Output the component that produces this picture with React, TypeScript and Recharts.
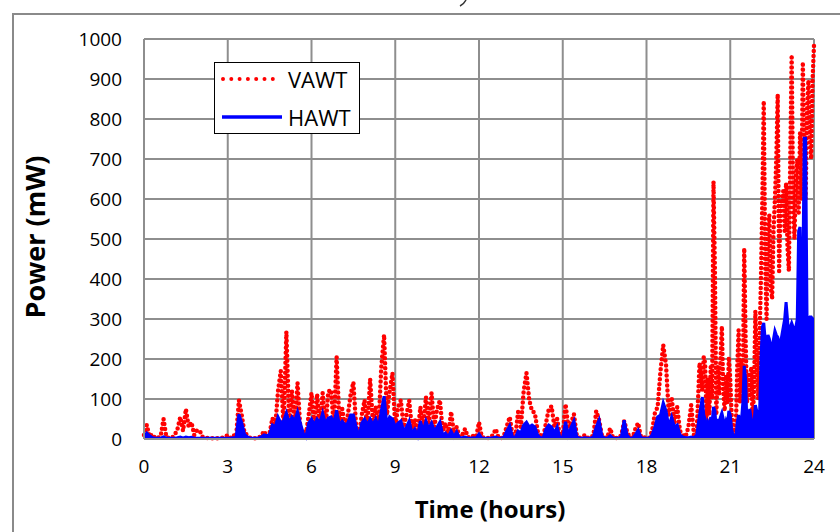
import React from "react";
import { ComposedChart, Area, XAxis, YAxis, CartesianGrid } from "recharts";

// power samples every 0.1 h, 0 .. 19.9 h (mW)
const vawtEarly = [
  10, 35, 5, 12, 2, 3, 8, 50, 5, 2,
  3, 10, 25, 55, 20, 75, 30, 42, 10, 22,
  20, 5, 3, 2, 2, 2, 2, 2, 3, 5,
  10, 3, 10, 5, 97, 60, 15, 10, 3, 2,
  2, 3, 8, 20, 5, 15, 52, 30, 120, 170,
  30, 268, 40, 120, 30, 140, 25, 20, 10, 60,
  115, 30, 112, 30, 115, 25, 118, 123, 30, 205,
  40, 75, 30, 60, 110, 142, 30, 8, 60, 97,
  30, 150, 40, 80, 30, 180, 260, 60, 120, 165,
  30, 80, 97, 30, 60, 96, 25, 50, 15, 80,
  30, 105, 40, 115, 30, 75, 97, 20, 40, 10,
  68, 15, 30, 5, 10, 25, 5, 3, 8, 5,
  42, 5, 3, 2, 3, 10, 25, 3, 2, 10,
  33, 55, 10, 5, 68, 30, 120, 165, 97, 70,
  65, 20, 10, 5, 40, 75, 82, 30, 50, 5,
  10, 87, 30, 40, 62, 10, 3, 5, 10, 3,
  3, 10, 70, 48, 10, 3, 5, 27, 3, 2,
  3, 10, 45, 20, 3, 3, 25, 40, 5, 3,
  5, 3, 20, 65, 80, 170, 235, 185, 60, 105,
  40, 80, 20, 10, 5, 30, 85, 10, 20, 190,
];

const hawtEarly = [
  5, 15, 8, 3, 2, 2, 2, 5, 2, 2,
  2, 2, 3, 5, 2, 5, 3, 4, 2, 2,
  2, 2, 2, 2, 2, 2, 2, 2, 2, 2,
  2, 2, 3, 4, 62, 40, 12, 5, 2, 2,
  2, 2, 5, 10, 8, 12, 35, 30, 55, 40,
  45, 65, 40, 55, 45, 68, 40, 15, 5, 40,
  50, 35, 50, 40, 65, 38, 52, 55, 40, 72,
  35, 45, 35, 40, 60, 60, 30, 5, 40, 50,
  35, 50, 35, 50, 30, 70, 107, 35, 55, 50,
  30, 40, 45, 20, 30, 45, 15, 25, 8, 45,
  20, 45, 25, 40, 20, 30, 42, 10, 15, 5,
  20, 5, 18, 3, 3, 5, 2, 2, 3, 2,
  12, 2, 2, 2, 2, 3, 5, 2, 2, 5,
  20, 33, 5, 3, 20, 15, 35, 42, 30, 35,
  30, 10, 3, 3, 25, 35, 30, 15, 30, 3,
  5, 43, 10, 30, 45, 5, 2, 2, 3, 2,
  2, 5, 30, 47, 8, 2, 2, 8, 2, 2,
  2, 5, 47, 10, 2, 2, 10, 22, 3, 2,
  2, 2, 10, 30, 55, 60, 90, 70, 30, 55,
  30, 35, 10, 5, 3, 3, 5, 3, 10, 60,
];

// power samples every 0.05 h, 20 .. 24 h (mW)
const vawtLate = [
  120, 205, 190, 40, 150, 60, 180, 100, 643, 420,
  60, 180, 110, 200, 282, 120, 70, 160, 90, 205,
  150, 60, 30, 10, 20, 180, 272, 90, 200, 120,
  477, 250, 90, 160, 110, 180, 40, 120, 320, 200,
  100, 250, 400, 600, 845, 450, 300, 520, 560, 380,
  350, 520, 600, 700, 862, 420, 580, 600, 620, 520,
  640, 480, 420, 700, 960, 600, 500, 650, 700, 560,
  765, 600, 942, 700, 600, 820, 897, 750, 700, 900,
  985,
];

const hawtLate = [
  105, 60, 50, 20, 40, 30, 55, 40, 80, 70,
  25, 50, 40, 55, 65, 50, 30, 45, 35, 70,
  60, 25, 10, 3, 5, 40, 60, 30, 45, 90,
  183, 150, 30, 60, 75, 50, 15, 40, 85, 70,
  30, 60, 200, 280, 290, 250, 220, 260, 250, 230,
  230, 250, 270, 260, 255, 240, 240, 260, 280, 300,
  342, 300, 250, 280, 290, 280, 260, 280, 300, 520,
  530, 350, 400, 752, 752, 300, 300, 305, 305, 300,
  300,
];

const hourTicks = [0, 3, 6, 9, 12, 15, 18, 21, 24];
const powerTicks = [0, 100, 200, 300, 400, 500, 600, 700, 800, 900, 1000];

const rows = [
  ...vawtEarly.map((v, i) => ({ hour: i / 10, vawt: v, hawt: hawtEarly[i] })),
  ...vawtLate.map((v, i) => ({ hour: 20 + i / 20, vawt: v, hawt: hawtLate[i] })),
];

const gridColor = "#8e8e8e";
const font = "'Open Sans', sans-serif";

function LegendBox() {
  return (
    <div
      style={{
        position: "absolute",
        left: 214,
        top: 62,
        width: 146,
        height: 72,
        boxSizing: "border-box",
        border: "1.5px solid #000",
        background: "#fff",
        fontFamily: font,
        fontSize: 22,
        color: "#000",
      }}
    >
      <svg width={146} height={72} style={{ position: "absolute", left: -1.5, top: -1.5 }}>
        <line x1={9} y1={17} x2={66} y2={17} stroke="#ff0000" strokeWidth={4}
          strokeDasharray="0 8.3" strokeLinecap="round" />
        <line x1={8} y1={55} x2={68} y2={55} stroke="#0000ff" strokeWidth={3.5} />
      </svg>
      <div style={{ position: "absolute", left: 73, top: 16, transform: "translateY(-50%)", lineHeight: 1 }}>VAWT</div>
      <div style={{ position: "absolute", left: 73, top: 54, transform: "translateY(-50%)", lineHeight: 1 }}>HAWT</div>
    </div>
  );
}

export default function App() {
  return (
    <div
      style={{
        position: "fixed",
        left: 0,
        top: 0,
        width: 840,
        height: 532,
        overflow: "hidden",
        background: "#fff",
        fontFamily: font,
      }}
    >
      <div
        style={{
          position: "absolute",
          left: 12,
          top: 13,
          width: 900,
          height: 600,
          border: "2px solid #8a8a8a",
        }}
      />
      <svg width={20} height={10} style={{ position: "absolute", left: 455, top: 0 }}>
        <path d="M5 6 Q9 4 11 0" stroke="#333" strokeWidth={1.5} fill="none" />
      </svg>
      <div style={{ position: "absolute", left: 0, top: 0 }}>
        <ComposedChart
          width={840}
          height={532}
          data={rows}
          margin={{ top: 39, right: 26, left: 0, bottom: 0 }}
        >
          <CartesianGrid stroke={gridColor} strokeWidth={2} />
          <XAxis
            dataKey="hour"
            type="number"
            domain={[0, 24]}
            ticks={hourTicks}
            height={93}
            tickLine={false}
            tickSize={0}
            tickMargin={21}
            axisLine={{ stroke: gridColor, strokeWidth: 2 }}
            tick={{ fill: "#000", fontSize: 19, fontFamily: font }}
            interval={0}
          />
          <YAxis
            type="number"
            domain={[0, 1000]}
            ticks={powerTicks}
            width={144}
            tickLine={false}
            tickSize={0}
            tickMargin={22}
            axisLine={{ stroke: gridColor, strokeWidth: 2 }}
            tick={{ fill: "#000", fontSize: 19, fontFamily: font }}
            interval={0}
          />
          <Area
            type="linear"
            dataKey="vawt"
            name="VAWT"
            stroke="#ff0000"
            strokeWidth={4.5}
            strokeDasharray="0 5"
            strokeLinecap="round"
            fill="none"
            fillOpacity={0}
            dot={false}
            activeDot={false}
            isAnimationActive={false}
          />
          <Area
            type="linear"
            dataKey="hawt"
            name="HAWT"
            stroke="#0000ff"
            strokeWidth={3}
            fill="#0000ff"
            fillOpacity={1}
            dot={false}
            activeDot={false}
            isAnimationActive={false}
          />
        </ComposedChart>
      </div>
      <LegendBox />
      <div
        style={{
          position: "absolute",
          left: 34,
          top: 237,
          transform: "translate(-50%, -50%) rotate(-90deg)",
          whiteSpace: "nowrap",
          fontWeight: 700,
          fontSize: 27,
          color: "#000",
        }}
      >
        Power (mW)
      </div>
      <div
        style={{
          position: "absolute",
          left: 490,
          top: 508,
          transform: "translate(-50%, -50%)",
          whiteSpace: "nowrap",
          fontWeight: 700,
          fontSize: 24,
          color: "#000",
        }}
      >
        Time (hours)
      </div>
    </div>
  );
}
